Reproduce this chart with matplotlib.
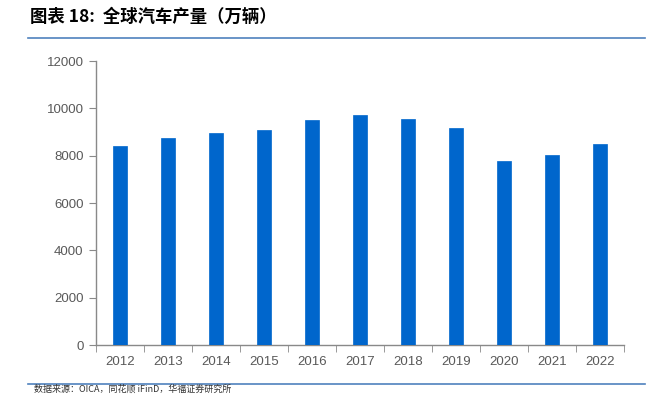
import matplotlib
matplotlib.use("Agg")
import matplotlib.pyplot as plt
import numpy as np
from matplotlib.ticker import FixedLocator

years = ["2012", "2013", "2014", "2015", "2016", "2017", "2018", "2019", "2020", "2021", "2022"]
production = [8424, 8730, 8975, 9078, 9498, 9730, 9563, 9179, 7776, 8015, 8502]
yticks = [0, 2000, 4000, 6000, 8000, 10000, 12000]

plt.rcParams['font.family'] = ['Noto Sans CJK SC', 'DejaVu Sans']

fig = plt.figure(figsize=(6.56, 3.94), dpi=100)
ax = fig.add_axes([96/656, 1-345/394, 528/656, 284/394])

x = np.arange(len(years))
ax.bar(x, production, width=0.30, color="#0066CC", edgecolor="#0066CC", linewidth=0.5, zorder=3)

ax.set_xlim(-0.5, len(years)-0.5)
ax.set_ylim(0, 12000)
ax.set_yticks(yticks)
ax.set_yticklabels([str(v) for v in yticks], fontsize=9.5, color="#595959", family="Liberation Sans")
ax.set_xticks(x)
ax.set_xticklabels(years, fontsize=9.5, color="#595959", family="Liberation Sans")
ax.xaxis.set_minor_locator(FixedLocator(np.arange(-0.5, len(years), 1.0)))
ax.tick_params(axis='x', which='major', length=0, pad=8)
ax.tick_params(axis='x', which='minor', length=5, color="#898989", direction='out')
ax.tick_params(axis='y', length=5, color="#898989", direction='out', pad=4)

for s in ["top", "right"]:
    ax.spines[s].set_visible(False)
for s in ["left", "bottom"]:
    ax.spines[s].set_color("#898989")
    ax.spines[s].set_linewidth(1.0)

fig.text(30/656, 1-17/394, "图表 18:  全球汽车产量（万辆）", fontsize=12.5, fontweight="bold",
         color="#000000", va="center", ha="left")
fig.add_artist(plt.Line2D([28/656, 645/656], [1-38/394, 1-38/394], color="#4F81BD", linewidth=1.2))
fig.add_artist(plt.Line2D([28/656, 645/656], [1-384/394, 1-384/394], color="#4F81BD", linewidth=1.2))
fig.text(34/656, 1-393.5/394, "数据来源：OICA，同花顺 iFinD，华福证券研究所", fontsize=6.5,
         color="#333333", va="bottom", ha="left")

fig.savefig("out.png", dpi=100)
